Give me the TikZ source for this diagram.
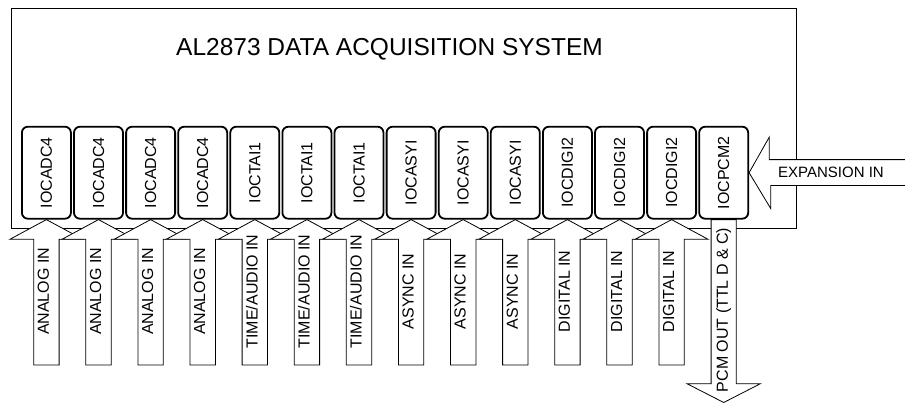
\documentclass[tikz,border=0pt]{standalone}
\usepackage{fontspec}
\setmainfont{Liberation Sans}
\usetikzlibrary{backgrounds}

\tikzset{
  modbox/.style={draw=black, line width=1.8pt, rounded corners=6pt, minimum width=49pt, minimum height=92pt, inner sep=0pt, font=\fontsize{16pt}{19pt}\selectfont},
  blockarrow/.style={draw=black, fill=white, line width=0.8pt},
  arrowlabel/.style={rotate=90, inner sep=0pt, font=\fontsize{16pt}{19pt}\selectfont}
}

\begin{document}
\begin{tikzpicture}[x=1pt, y=-1pt]
  \useasboundingbox (0,0) rectangle (905,402);

  % Title
  \node[anchor=base, font=\fontsize{24.5pt}{29pt}\selectfont] (title) at (389.5,55) {AL2873 DATA ACQUISITION SYSTEM};

  % Plug-in modules
  \foreach \name [count=\i] in {IOCADC4,IOCADC4,IOCADC4,IOCADC4,IOCTAI1,IOCTAI1,IOCTAI1,IOCASYI,IOCASYI,IOCASYI,IOCDIGI2,IOCDIGI2,IOCDIGI2,IOCPCM2}
    \node[modbox] (m\i) at ({46.4+(\i-1)*52.1},172.7) {\rotatebox{90}{\name}};

  \begin{scope}[on background layer]
    % System frame
    \draw[line width=0.8pt] (11,8.5) rectangle (796,228.5);

    % Input arrows
    \foreach \sig [count=\i] in {ANALOG IN,ANALOG IN,ANALOG IN,ANALOG IN,TIME/AUDIO IN,TIME/AUDIO IN,TIME/AUDIO IN,ASYNC IN,ASYNC IN,ASYNC IN,DIGITAL IN,DIGITAL IN,DIGITAL IN}
    {
      \draw[blockarrow] (m\i.south) -- ++(36.5,19.7) -- ++(-23.8,0) -- ++(0,125.6) -- ++(-25.4,0) -- ++(0,-125.6) -- ++(-23.8,0) -- cycle;
      \node[arrowlabel] (in\i) at ([xshift=-3pt, yshift=-71.8pt]m\i.south) {\sig};
    }

    % PCM output
    \draw[blockarrow] ([xshift=-12.6pt]m14.south) -- ++(0,164.2) -- ++(-23.9,0) -- ++(36.5,18.7) -- ++(36.5,-18.7) -- ++(-23.9,0) -- ++(0,-164.2) -- cycle;
    \node[arrowlabel] (pcmout) at ([yshift=-90.3pt]m14.south) {PCM OUT (TTL D \& C)};

    % Expansion input
    \coordinate (expin) at (905,172.5);
    \draw[blockarrow] ([yshift=12.9pt]expin) -- ++(-135.7,0) -- ++(0,-22.6) -- (m14.east) -- ++(21.6,35.8) -- ++(0,-23) -- ([yshift=-12.9pt]expin);
    \node[anchor=base, inner sep=0pt, font=\fontsize{15pt}{18pt}\selectfont] (explbl) at (831,177.7) {EXPANSION IN};
  \end{scope}
\end{tikzpicture}
\end{document}
